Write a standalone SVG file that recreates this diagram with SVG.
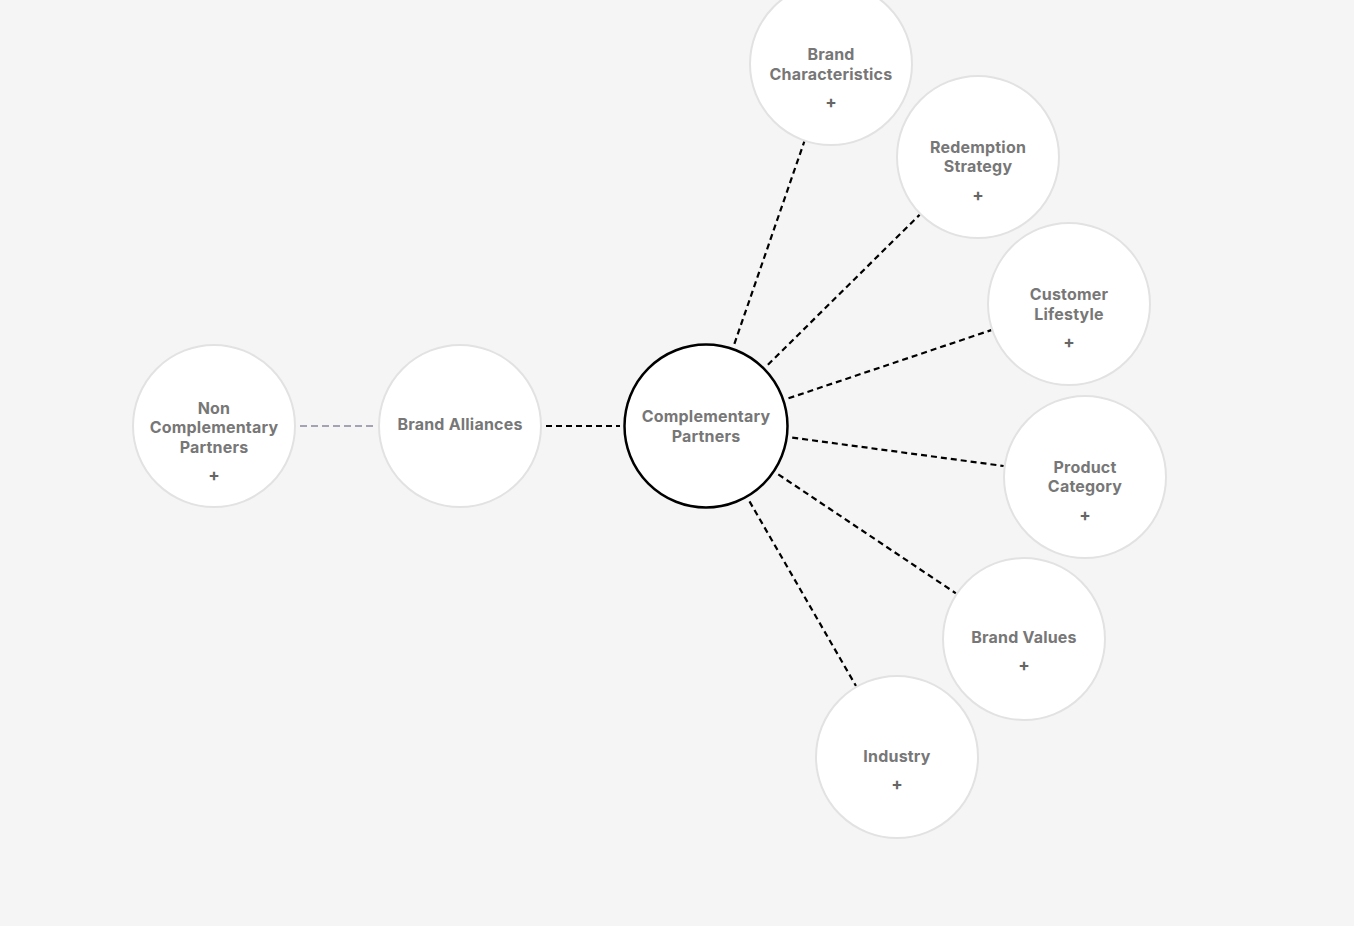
<svg xmlns="http://www.w3.org/2000/svg" width="1354" height="926" viewBox="0 0 1354 926">
<style>
.bg{fill:#f5f5f5}
.node{fill:#ffffff;stroke:#e2e2e2;stroke-width:2}
.main{fill:#ffffff;stroke:#000000;stroke-width:2.5}
.lbl{font-family:Inter,"Liberation Sans",sans-serif;font-weight:700;font-size:16px;fill:#777777;text-anchor:middle;dominant-baseline:central;letter-spacing:0.2px}
.plus{font-family:Inter,"Liberation Sans",sans-serif;font-weight:700;font-size:17px;fill:#666666;text-anchor:middle;dominant-baseline:central}
.edge{stroke:#000000;stroke-width:2.2;stroke-dasharray:6 4;fill:none}
.edge2{stroke:#a3a3b3;stroke-width:2.2;stroke-dasharray:7 4;fill:none}
</style>
<rect class="bg" x="0" y="0" width="1354" height="926"/>
<g id="connectors">
<line class="edge2" x1="300" y1="426" x2="374" y2="426"/>
<line class="edge" x1="546" y1="426" x2="620" y2="426"/>
<line class="edge" x1="734.4" y1="343.8" x2="804.3" y2="141.5"/>
<line class="edge" x1="767.9" y1="364.8" x2="919.7" y2="214.7"/>
<line class="edge" x1="788.5" y1="398.3" x2="991.3" y2="330.1"/>
<line class="edge" x1="792.2" y1="437.6" x2="1003.7" y2="466"/>
<line class="edge" x1="778.3" y1="474.4" x2="955.9" y2="593.3"/>
<line class="edge" x1="749.5" y1="501.4" x2="856" y2="686"/>
</g>
<g id="node-non-complementary">
<circle class="node" cx="214" cy="426" r="81"/>
<text class="lbl" x="214" y="408">Non</text>
<text class="lbl" x="214" y="427">Complementary</text>
<text class="lbl" x="214" y="447">Partners</text>
<text class="plus" x="214" y="475">+</text>
</g>
<g id="node-brand-alliances">
<circle class="node" cx="460" cy="426" r="81"/>
<text class="lbl" x="460" y="424">Brand Alliances</text>
</g>
<g id="node-complementary">
<circle class="main" cx="706" cy="426" r="81.5"/>
<text class="lbl" x="706" y="416">Complementary</text>
<text class="lbl" x="706" y="436">Partners</text>
</g>
<g id="node-brand-characteristics">
<circle class="node" cx="831" cy="64" r="81"/>
<text class="lbl" x="831" y="54">Brand</text>
<text class="lbl" x="831" y="74">Characteristics</text>
<text class="plus" x="831" y="102">+</text>
</g>
<g id="node-redemption-strategy">
<circle class="node" cx="978" cy="157" r="81"/>
<text class="lbl" x="978" y="147">Redemption</text>
<text class="lbl" x="978" y="166">Strategy</text>
<text class="plus" x="978" y="195">+</text>
</g>
<g id="node-customer-lifestyle">
<circle class="node" cx="1069" cy="304" r="81"/>
<text class="lbl" x="1069" y="294">Customer</text>
<text class="lbl" x="1069" y="314">Lifestyle</text>
<text class="plus" x="1069" y="342">+</text>
</g>
<g id="node-product-category">
<circle class="node" cx="1085" cy="477" r="81"/>
<text class="lbl" x="1085" y="467">Product</text>
<text class="lbl" x="1085" y="486">Category</text>
<text class="plus" x="1085" y="515">+</text>
</g>
<g id="node-brand-values">
<circle class="node" cx="1024" cy="639" r="81"/>
<text class="lbl" x="1024" y="637">Brand Values</text>
<text class="plus" x="1024" y="665">+</text>
</g>
<g id="node-industry">
<circle class="node" cx="897" cy="757" r="81"/>
<text class="lbl" x="897" y="756">Industry</text>
<text class="plus" x="897" y="784">+</text>
</g>
</svg>
